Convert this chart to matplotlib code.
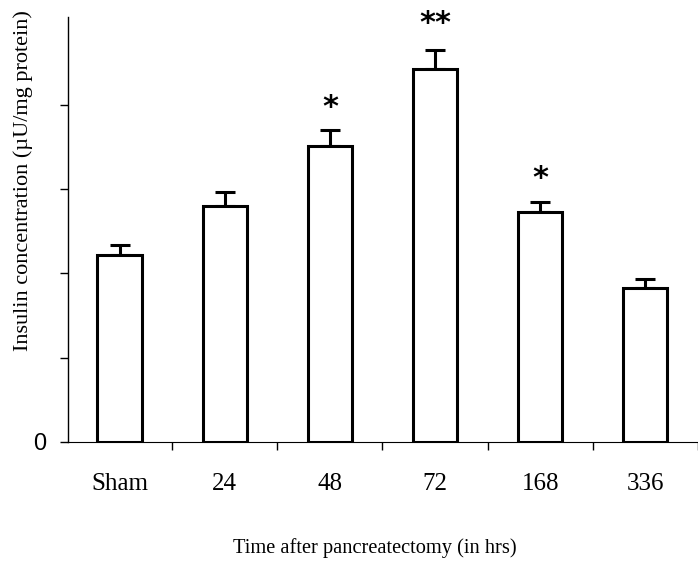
import matplotlib.pyplot as plt
import numpy as np

# insulin content per group (arbitrary units, only zero is labelled)
groups = ["Sham", "24", "48", "72", "168", "336"]
insulin = [2.22, 2.80, 3.51, 4.42, 2.73, 1.83]
sem = [0.12, 0.16, 0.19, 0.23, 0.12, 0.10]
signif = ["", "", "*", "**", "*", ""]

fig = plt.figure(figsize=(6.98, 5.77), dpi=100)
ax = fig.add_axes([0.0974, 0.234, 0.9026, 0.7366])

x = np.arange(len(groups))
ax.bar(x, insulin, width=0.42, color="white", edgecolor="black", linewidth=2.2, zorder=2)
ax.errorbar(x, insulin, yerr=[np.zeros(len(sem)), sem], fmt="none", ecolor="black",
            elinewidth=2.2, capsize=7, capthick=2.2, zorder=1)

# significance marks above the error bars
gap = {"*": 0.10, "**": 0.14}
for xi, h, e, s in zip(x, insulin, sem, signif):
    if s:
        ax.text(xi, h + e + gap[s], s, ha="center", va="bottom", fontsize=22,
                fontweight="bold", family="DejaVu Sans", clip_on=False)

ax.set_xlim(-0.49, 5.43)
ax.set_ylim(0, 5.04)

ax.spines["top"].set_visible(False)
ax.spines["right"].set_visible(False)
ax.spines["left"].set_linewidth(1.0)
ax.spines["bottom"].set_linewidth(0.8)

ax.set_yticks([0, 1, 2, 3, 4])
ax.set_yticklabels(["0", "", "", "", ""], fontsize=17, family="Liberation Sans")
ax.tick_params(axis="y", direction="out", length=6, width=1, pad=10)

ax.set_xticks(x + 0.5)
ax.set_xticklabels([])
ax.tick_params(axis="x", direction="out", length=6, width=1)
for xi, g in zip(x, groups):
    ax.text(xi, -0.50, g, ha="center", va="center", fontsize=18,
            family="Liberation Serif", clip_on=False)

ax.set_ylabel("Insulin concentration (\u00b5U/mg protein)", fontsize=16,
              family="Liberation Serif")
ax.yaxis.set_label_coords(-0.055, 0.615)
fig.text(0.537, 0.05, "Time after pancreatectomy (in hrs)", ha="center", va="center",
         fontsize=14.7, family="Liberation Serif")

fig.savefig("out.png", dpi=100)
